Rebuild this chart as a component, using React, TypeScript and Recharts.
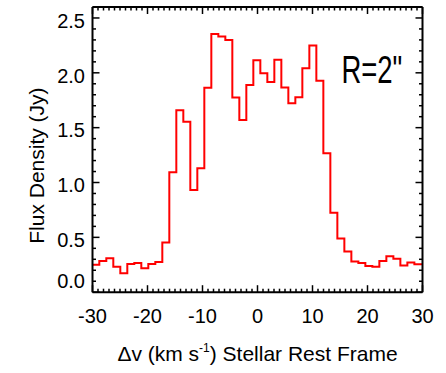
import { LineChart, Line, XAxis, YAxis, ReferenceDot, Label } from 'recharts';

// Channel grid of the spectrum (km/s) and flux per channel (Jy)
const V_START = -29.4;
const V_STEP = 1.273;
const FLUX = [
  0.25, 0.285, 0.31, 0.233, 0.172, 0.256, 0.267, 0.218, 0.256, 0.276,
  0.453, 1.093, 1.658, 1.555, 0.932, 1.13, 1.864, 2.354, 2.33, 2.3,
  1.774, 1.57, 1.889, 2.114, 1.995, 1.916, 2.12, 1.865, 1.722, 1.777,
  2.041, 2.248, 1.928, 1.266, 0.724, 0.489, 0.372, 0.28, 0.267, 0.238,
  0.232, 0.284, 0.327, 0.305, 0.244, 0.27, 0.254,
];

const X_MAJOR = [-30, -20, -10, 0, 10, 20, 30];
const X_MINOR = Array.from({ length: 61 }, (_, i) => i - 30);
const Y_MAJOR = [0, 0.5, 1, 1.5, 2, 2.5];
const Y_MINOR = Array.from({ length: 27 }, (_, i) => i / 10);

const FONT = "'Liberation Sans Narrow', 'Liberation Sans', Arial, sans-serif";
const INK = '#000';

// pad both ends so the histogram runs to the frame edges
const spectrum = [
  { v: -30, flux: FLUX[0] },
  ...FLUX.map((f, i) => ({ v: +(V_START + i * V_STEP).toFixed(3), flux: f })),
  { v: 30, flux: FLUX[FLUX.length - 1] },
];

const isMajor = (v: number, majors: number[]) => majors.some((m) => Math.abs(m - v) < 1e-6);

function BottomTick({ x, y, payload }: any) {
  const major = isMajor(payload.value, X_MAJOR);
  return (
    <g>
      <line x1={x} x2={x} y1={y} y2={y - (major ? 7 : 3.5)} stroke={INK} strokeWidth={1.5} />
      {major && (
        <text x={x} y={y + 30.7} textAnchor="middle" fontSize={20} fontFamily={FONT} fill={INK}>
          {payload.value}
        </text>
      )}
    </g>
  );
}

function TopTick({ x, y, payload }: any) {
  const major = isMajor(payload.value, X_MAJOR);
  return <line x1={x} x2={x} y1={y} y2={y + (major ? 7 : 3.5)} stroke={INK} strokeWidth={1.5} />;
}

function LeftTick({ x, y, payload }: any) {
  const major = isMajor(payload.value, Y_MAJOR);
  // the zero label sits a little higher so it clears the bottom axis
  const dy = payload.value === 0 ? -4 : 9.7;
  return (
    <g>
      <line x1={x} x2={x + (major ? 7 : 3.5)} y1={y} y2={y} stroke={INK} strokeWidth={1.5} />
      {major && (
        <text x={x - 7.5} y={y + dy} textAnchor="end" fontSize={20} fontFamily={FONT} fill={INK}>
          {payload.value.toFixed(1)}
        </text>
      )}
    </g>
  );
}

function RightTick({ x, y, payload }: any) {
  const major = isMajor(payload.value, Y_MAJOR);
  return <line x1={x} x2={x - (major ? 7 : 3.5)} y1={y} y2={y} stroke={INK} strokeWidth={1.5} />;
}

function YTitle({ viewBox }: any) {
  const cx = viewBox.x + 44;
  const cy = viewBox.y + viewBox.height / 2 + 16;
  return (
    <text
      x={cx}
      y={cy}
      transform={`rotate(-90 ${cx} ${cy})`}
      textAnchor="middle"
      fontSize={21}
      fontFamily={FONT}
      fill={INK}
    >
      Flux Density (Jy)
    </text>
  );
}

function XTitle({ viewBox }: any) {
  const cx = viewBox.x + viewBox.width / 2;
  const by = viewBox.y + 69;
  return (
    <text x={cx} y={by} textAnchor="middle" fontSize={21} fontFamily={FONT} fill={INK}>
      Δv (km s
      <tspan dy={-9} fontSize={12}>-1</tspan>
      <tspan dy={9}>) Stellar Rest Frame</tspan>
    </text>
  );
}

function RadiusTag({ viewBox }: any) {
  return (
    <text
      x={viewBox.x}
      y={viewBox.y}
      textAnchor="middle"
      fontSize={39}
      textLength={61}
      lengthAdjust="spacingAndGlyphs"
      fontFamily={FONT}
      fill={INK}
    >
      {'R=2"'}
    </text>
  );
}

export default function App() {
  return (
    <div style={{ position: 'absolute', left: 0, top: 0 }}>
      <LineChart width={446} height={373} data={spectrum} margin={{ top: 6, right: 0, bottom: 0, left: 0 }}>
        <XAxis
          xAxisId="b"
          dataKey="v"
          type="number"
          domain={[-30, 30]}
          allowDataOverflow
          ticks={X_MINOR}
          interval={0}
          height={80.8}
          tickSize={0}
          tickMargin={0}
          tickLine={false}
          axisLine={{ stroke: INK, strokeWidth: 2 }}
          tick={<BottomTick />}
        >
          <Label content={<XTitle />} />
        </XAxis>
        <XAxis
          xAxisId="t"
          orientation="top"
          dataKey="v"
          type="number"
          domain={[-30, 30]}
          allowDataOverflow
          ticks={X_MINOR}
          interval={0}
          height={1}
          tickSize={0}
          tickMargin={0}
          tickLine={false}
          axisLine={{ stroke: INK, strokeWidth: 2 }}
          tick={<TopTick />}
        />
        <YAxis
          yAxisId="l"
          type="number"
          domain={[0, 2.6]}
          allowDataOverflow
          ticks={Y_MINOR}
          interval={0}
          width={92.5}
          tickSize={0}
          tickMargin={0}
          tickLine={false}
          axisLine={{ stroke: INK, strokeWidth: 2 }}
          tick={<LeftTick />}
        >
          <Label content={<YTitle />} />
        </YAxis>
        <YAxis
          yAxisId="r"
          orientation="right"
          type="number"
          domain={[0, 2.6]}
          allowDataOverflow
          ticks={Y_MINOR}
          interval={0}
          width={23.5}
          tickSize={0}
          tickMargin={0}
          tickLine={false}
          axisLine={{ stroke: INK, strokeWidth: 2 }}
          tick={<RightTick />}
        />
        <Line
          xAxisId="b"
          yAxisId="l"
          type="step"
          dataKey="flux"
          stroke="#ff0000"
          strokeWidth={2}
          dot={false}
          isAnimationActive={false}
        />
        <ReferenceDot
          xAxisId="b"
          yAxisId="l"
          x={20.8}
          y={1.904}
          r={0}
          stroke="none"
          fill="none"
          label={<RadiusTag />}
        />
      </LineChart>
    </div>
  );
}
